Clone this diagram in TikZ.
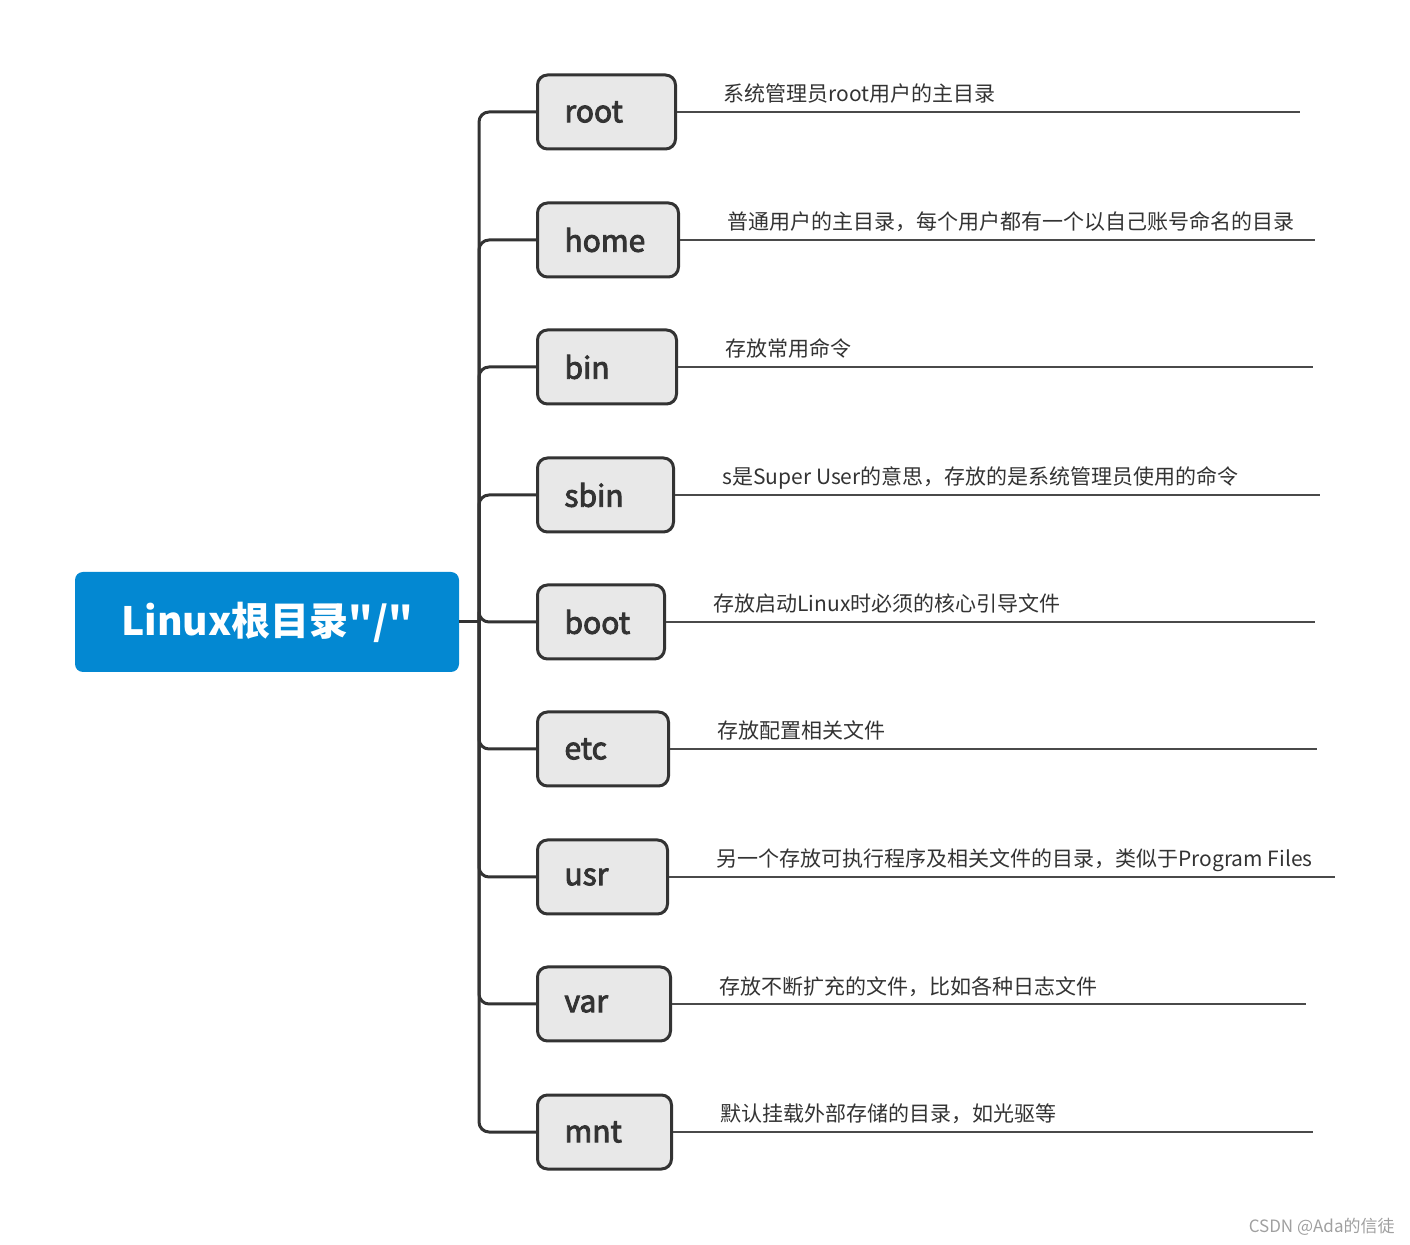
\documentclass[tikz,border=0pt]{standalone}
\usepackage{fontspec}
\setmainfont{Noto Sans CJK SC}[Ligatures=TeXOff]
\newfontfamily\dirfont{Noto Sans CJK SC}[Ligatures=TeXOff, FakeBold=3]
\usetikzlibrary{positioning}
\definecolor{rootBlue}{HTML}{0388D2}
\definecolor{dirFill}{HTML}{E8E8E8}
\definecolor{dark}{HTML}{333333}
\definecolor{descLine}{HTML}{4A4A4A}
\definecolor{mark}{HTML}{A0A0A0}
\tikzset{
  title/.style={rectangle, rounded corners=4pt, fill=rootBlue, text=white,
                font=\bfseries\fontsize{19.5}{22}\selectfont,
                minimum width=192pt, minimum height=50pt, inner sep=0pt},
  dirbox/.style={rectangle, rounded corners=5pt, draw=dark, line width=1.5pt,
                 fill=dirFill, text=dark, align=left, anchor=west,
                 font=\dirfont\fontsize{15}{18}\selectfont,
                 minimum height=37pt, inner xsep=13.5pt},
  branch/.style={draw=dark, line width=1.5pt},
  descedge/.style={draw=descLine, line width=0.75pt},
  desc/.style={anchor=base west, inner sep=0pt, text=dark,
               font=\fontsize{10.5}{12}\selectfont},
  watermark/.style={anchor=base east, inner sep=0pt, text=mark,
                    font=\fontsize{8.5}{10}\selectfont},
}

\begin{document}
\begin{tikzpicture}[x=0.5pt, y=-0.5pt]
\useasboundingbox (0,0) rectangle (1410,1245);

\node[title] (linux) at (267,622) {Linux根目录"/"};
\coordinate (hub) at (479,622);
\draw[branch] (linux.east) -- (hub);

% --- directories: name / y / right edge / line end / text x / description ---
\foreach \name/\y/\r/\e/\tx/\txt in {%
  root/112/674/1300/723/{系统管理员root用户的主目录},
  home/240/677/1315/727/{普通用户的主目录，每个用户都有一个以自己账号命名的目录},
  bin/367/675/1313/725/{存放常用命令},
  sbin/495/672/1320/722/{s是Super User的意思，存放的是系统管理员使用的命令},
  boot/622/663/1315/713/{存放启动Linux时必须的核心引导文件},
  etc/749/667/1317/717/{存放配置相关文件},
  usr/877/666/1335/716/{另一个存放可执行程序及相关文件的目录，类似于Program Files},
  var/1004/669/1306/719/{存放不断扩充的文件，比如各种日志文件},
  mnt/1132/670/1313/720/{默认挂载外部存储的目录，如光驱等}} {
  \node[dirbox, text width=(\r-536-54)*0.5pt] (\name) at (536,\y) {\name};
  \coordinate (\name end) at (\e,\y);
  \draw[descedge] (\name.east) -- (\name end);
  \node[desc] (\name desc) at (\tx,\y-10) {\txt};
  \draw[branch, rounded corners=5pt] (hub) |- (\name.west);
}

\node[watermark] (csdn) at (1395,1232) {CSDN @Ada的信徒};

\end{tikzpicture}
\end{document}
